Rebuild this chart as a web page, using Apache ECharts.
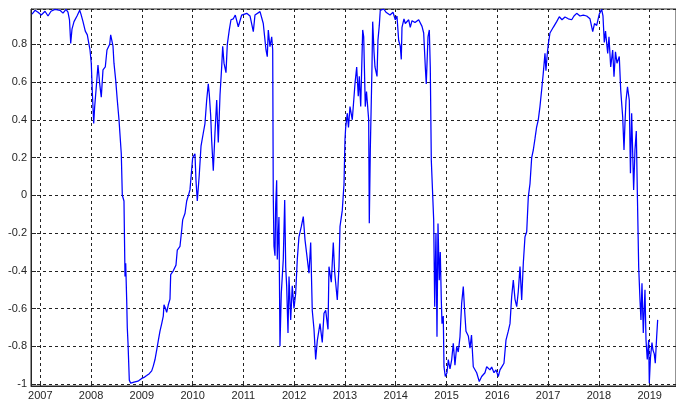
<!DOCTYPE html>
<html>
<head>
<meta charset="utf-8">
<script src="https://cdn.jsdelivr.net/npm/echarts@6/dist/echarts.min.js"></script>
<style>
  html, body { margin: 0; padding: 0; background: #ffffff; }
  #chart { width: 676px; height: 403px; }
</style>
</head>
<body>
<div id="chart"></div>
<script>
// Observation times, as decimal years
const years = [
  2006.837, 2006.896, 2006.955, 2007.020, 2007.093, 2007.152, 2007.211, 2007.289, 2007.388, 2007.447,
  2007.506, 2007.545, 2007.575, 2007.599, 2007.624, 2007.664, 2007.723, 2007.776, 2007.801, 2007.841,
  2007.886, 2007.926, 2007.959, 2007.979, 2008.004, 2008.024, 2008.052, 2008.071, 2008.103, 2008.136,
  2008.170, 2008.201, 2008.235, 2008.280, 2008.313, 2008.367, 2008.386, 2008.432, 2008.451, 2008.485,
  2008.516, 2008.550, 2008.595, 2008.615, 2008.648, 2008.668, 2008.682, 2008.701, 2008.713, 2008.727,
  2008.753, 2008.780, 2008.845, 2008.924, 2008.997, 2009.042, 2009.095, 2009.146, 2009.194, 2009.225,
  2009.259, 2009.292, 2009.324, 2009.357, 2009.391, 2009.422, 2009.436, 2009.466, 2009.489, 2009.521,
  2009.554, 2009.568, 2009.619, 2009.672, 2009.698, 2009.751, 2009.785, 2009.804, 2009.850, 2009.883,
  2009.918, 2009.948, 2010.001, 2010.046, 2010.066, 2010.092, 2010.131, 2010.165, 2010.210, 2010.243,
  2010.277, 2010.308, 2010.328, 2010.356, 2010.375, 2010.407, 2010.440, 2010.474, 2010.505, 2010.539,
  2010.572, 2010.592, 2010.618, 2010.657, 2010.683, 2010.722, 2010.755, 2010.801, 2010.840, 2010.899,
  2010.966, 2011.065, 2011.130, 2011.195, 2011.228, 2011.327, 2011.391, 2011.445, 2011.470, 2011.490,
  2011.523, 2011.557, 2011.577, 2011.588, 2011.602, 2011.622, 2011.636, 2011.655, 2011.667, 2011.700,
  2011.720, 2011.746, 2011.785, 2011.813, 2011.833, 2011.852, 2011.878, 2011.898, 2011.931, 2011.962,
  2011.996, 2012.029, 2012.061, 2012.094, 2012.140, 2012.179, 2012.193, 2012.213, 2012.246, 2012.291,
  2012.325, 2012.356, 2012.390, 2012.423, 2012.455, 2012.508, 2012.553, 2012.587, 2012.620, 2012.666,
  2012.685, 2012.731, 2012.770, 2012.798, 2012.849, 2012.882, 2012.902, 2012.947, 2012.981, 2013.000,
  2013.014, 2013.046, 2013.069, 2013.099, 2013.144, 2013.197, 2013.231, 2013.262, 2013.282, 2013.310,
  2013.349, 2013.369, 2013.400, 2013.424, 2013.467, 2013.479, 2013.499, 2013.532, 2013.546, 2013.572,
  2013.591, 2013.631, 2013.650, 2013.676, 2013.695, 2013.762, 2013.808, 2013.847, 2013.887, 2013.946,
  2013.991, 2014.024, 2014.058, 2014.089, 2014.109, 2014.123, 2014.162, 2014.188, 2014.255, 2014.286,
  2014.320, 2014.379, 2014.452, 2014.478, 2014.517, 2014.550, 2014.582, 2014.601, 2014.635, 2014.661,
  2014.680, 2014.700, 2014.723, 2014.747, 2014.767, 2014.792, 2014.812, 2014.832, 2014.857, 2014.877,
  2014.897, 2014.911, 2014.936, 2014.950, 2014.976, 2015.009, 2015.035, 2015.068, 2015.102, 2015.133,
  2015.166, 2015.200, 2015.231, 2015.265, 2015.298, 2015.330, 2015.354, 2015.383, 2015.429, 2015.462,
  2015.492, 2015.527, 2015.594, 2015.645, 2015.692, 2015.724, 2015.757, 2015.791, 2015.856, 2015.889,
  2015.935, 2015.974, 2016.019, 2016.053, 2016.086, 2016.131, 2016.171, 2016.216, 2016.250, 2016.283,
  2016.315, 2016.348, 2016.382, 2016.413, 2016.447, 2016.480, 2016.512, 2016.545, 2016.579, 2016.610,
  2016.644, 2016.677, 2016.709, 2016.742, 2016.775, 2016.807, 2016.840, 2016.873, 2016.905, 2016.939,
  2016.958, 2016.984, 2017.004, 2017.037, 2017.102, 2017.169, 2017.221, 2017.274, 2017.333, 2017.398,
  2017.465, 2017.510, 2017.563, 2017.628, 2017.693, 2017.760, 2017.825, 2017.879, 2017.914, 2017.957,
  2018.008, 2018.055, 2018.081, 2018.107, 2018.131, 2018.174, 2018.199, 2018.233, 2018.272, 2018.298,
  2018.327, 2018.357, 2018.402, 2018.430, 2018.469, 2018.495, 2018.514, 2018.534, 2018.564, 2018.599,
  2018.622, 2018.646, 2018.685, 2018.711, 2018.737, 2018.760, 2018.784, 2018.810, 2018.829, 2018.849,
  2018.875, 2018.908, 2018.928, 2018.953, 2018.981, 2018.993, 2019.016, 2019.046, 2019.065, 2019.091,
  2019.111, 2019.138, 2019.158
];

// Rolling correlation values at those times
const values = [
  0.960, 0.980, 0.970, 0.955, 0.975, 0.950, 0.975, 0.985, 0.980, 0.965,
  0.985, 0.970, 0.930, 0.805, 0.880, 0.920, 0.950, 0.980, 0.960, 0.920,
  0.870, 0.850, 0.800, 0.770, 0.700, 0.550, 0.380, 0.470, 0.575, 0.690,
  0.590, 0.520, 0.665, 0.680, 0.770, 0.800, 0.850, 0.790, 0.700, 0.610,
  0.505, 0.400, 0.220, 0.000, -0.030, -0.430, -0.360, -0.550, -0.700, -0.780,
  -0.980, -0.995, -0.990, -0.985, -0.970, -0.965, -0.955, -0.945, -0.930, -0.905,
  -0.870, -0.820, -0.770, -0.720, -0.680, -0.640, -0.580, -0.600, -0.620, -0.580,
  -0.550, -0.420, -0.400, -0.370, -0.290, -0.270, -0.184, -0.130, -0.095, -0.030,
  0.000, 0.030, 0.200, 0.220, 0.080, -0.030, 0.110, 0.260, 0.330, 0.380,
  0.505, 0.590, 0.535, 0.420, 0.290, 0.130, 0.330, 0.505, 0.280, 0.530,
  0.680, 0.790, 0.700, 0.650, 0.800, 0.876, 0.930, 0.935, 0.955, 0.893,
  0.955, 0.964, 0.950, 0.867, 0.955, 0.973, 0.910, 0.770, 0.734, 0.876,
  0.787, 0.840, 0.770, 0.000, -0.270, -0.320, -0.050, 0.080, -0.340, -0.115,
  -0.800, -0.520, -0.340, -0.025, -0.380, -0.480, -0.730, -0.430, -0.660, -0.480,
  -0.600, -0.520, -0.340, -0.220, -0.166, -0.113, -0.105, -0.236, -0.310, -0.413,
  -0.250, -0.610, -0.710, -0.870, -0.770, -0.680, -0.780, -0.625, -0.610, -0.710,
  -0.378, -0.460, -0.250, -0.410, -0.555, -0.380, -0.166, -0.080, 0.060, 0.293,
  0.360, 0.435, 0.360, 0.470, 0.400, 0.590, 0.680, 0.525, 0.630, 0.470,
  0.876, 0.840, 0.470, 0.550, 0.400, -0.148, 0.240, 0.680, 0.920, 0.760,
  0.680, 0.630, 0.823, 0.900, 0.980, 0.987, 0.970, 0.980, 0.955, 0.970,
  0.930, 0.950, 0.820, 0.790, 0.720, 0.890, 0.935, 0.910, 0.930, 0.890,
  0.925, 0.915, 0.930, 0.935, 0.895, 0.860, 0.680, 0.590, 0.840, 0.876,
  0.680, 0.187, 0.180, -0.130, -0.590, -0.200, -0.750, -0.150, -0.450, -0.300,
  -0.555, -0.680, -0.640, -0.908, -0.960, -0.940, -0.870, -0.920, -0.870, -0.784,
  -0.900, -0.800, -0.830, -0.750, -0.572, -0.484, -0.600, -0.720, -0.745, -0.810,
  -0.740, -0.908, -0.940, -0.987, -0.960, -0.970, -0.940, -0.908, -0.925, -0.910,
  -0.940, -0.925, -0.960, -0.925, -0.910, -0.890, -0.767, -0.720, -0.680, -0.537,
  -0.449, -0.550, -0.590, -0.510, -0.378, -0.555, -0.360, -0.220, -0.193, -0.010,
  0.062, 0.200, 0.240, 0.300, 0.363, 0.400, 0.470, 0.558, 0.646, 0.752,
  0.660, 0.750, 0.800, 0.860, 0.890, 0.920, 0.946, 0.930, 0.945, 0.935,
  0.930, 0.950, 0.964, 0.950, 0.955, 0.950, 0.935, 0.867, 0.910, 0.900,
  0.960, 0.985, 0.950, 0.810, 0.870, 0.752, 0.840, 0.680, 0.770, 0.628,
  0.760, 0.700, 0.735, 0.558, 0.416, 0.240, 0.380, 0.500, 0.575, 0.505,
  0.117, 0.435, 0.028, 0.240, 0.340, -0.020, -0.378, -0.555, -0.660, -0.466,
  -0.730, -0.500, -0.765, -0.870, -0.767, -0.996, -0.860, -0.780, -0.820, -0.840,
  -0.890, -0.750, -0.660
];

const series = years.map((t, i) => [t, values[i]]);

const FONT = "'Liberation Sans', Arial, Helvetica, sans-serif";
const gridLine = { show: true, lineStyle: { color: '#222', width: 1, type: [3, 3] } };

const chart = echarts.init(document.getElementById('chart'), null, { renderer: 'canvas' });
chart.setOption({
  animation: false,
  backgroundColor: '#ffffff',
  grid: {
    left: 31, top: 9, right: 0, bottom: 17,
    show: true, borderColor: '#262626', borderWidth: 1, backgroundColor: 'transparent'
  },
  xAxis: {
    type: 'value',
    min: 2006.817,
    max: 2019.519,
    splitNumber: 12,
    axisLine: { show: true, onZero: false, lineStyle: { color: '#262626', width: 1 } },
    axisTick: { show: true, inside: true, length: 5, lineStyle: { color: '#262626' } },
    axisLabel: {
      show: true, margin: 4, color: '#262626', fontSize: 11, fontFamily: FONT,
      showMinLabel: false, showMaxLabel: false,
      formatter: v => String(Math.round(v))
    },
    splitLine: gridLine
  },
  yAxis: {
    type: 'value',
    min: -1.0103,
    max: 0.987,
    splitNumber: 10,
    axisLine: { show: true, onZero: false, lineStyle: { color: '#262626', width: 1 } },
    axisTick: { show: true, inside: true, length: 5, lineStyle: { color: '#262626' } },
    axisLabel: {
      show: true, margin: 4, color: '#262626', fontSize: 11, fontFamily: FONT,
      showMinLabel: false, showMaxLabel: false,
      formatter: v => String(Math.round(v * 10) / 10)
    },
    splitLine: gridLine
  },
  series: [{
    type: 'line',
    data: series,
    showSymbol: false,
    symbol: 'none',
    smooth: false,
    lineStyle: { color: '#0000ff', width: 1.25 },
    silent: true
  }]
});
</script>
</body>
</html>
